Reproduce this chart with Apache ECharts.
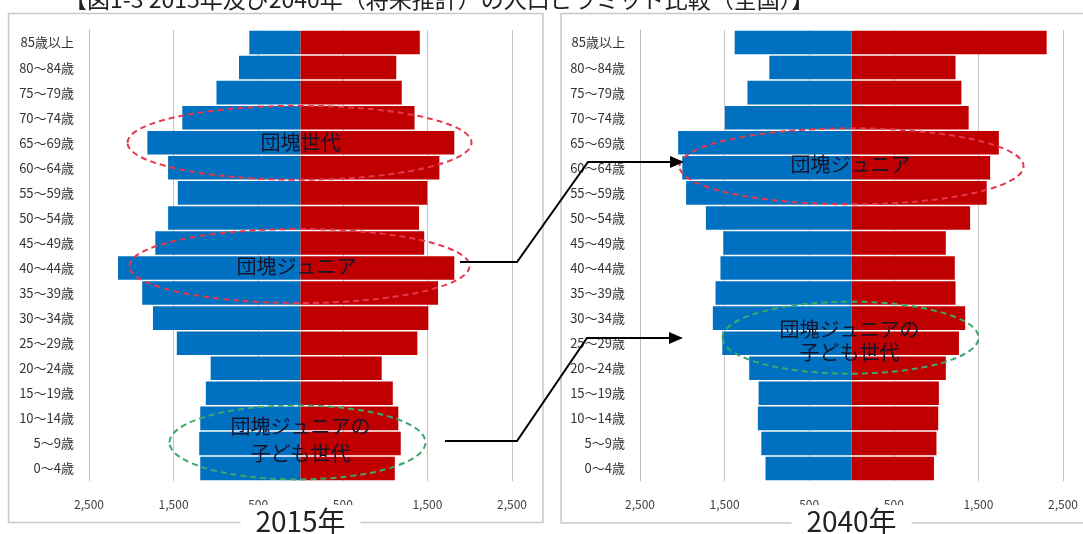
<!DOCTYPE html>
<html>
<head>
<meta charset="utf-8">
<script src="https://cdn.jsdelivr.net/npm/echarts@6/dist/echarts.min.js"></script>
<style>
html, body { margin: 0; padding: 0; background: #fff; }
#main { width: 1083px; height: 534px; }
</style>
</head>
<body>
<div id="main"></div>
<script>
// 年齢階級（上から）
var ageGroups = ['85歳以上', '80～84歳', '75～79歳', '70～74歳', '65～69歳', '60～64歳', '55～59歳', '50～54歳', '45～49歳',
	'40～44歳', '35～39歳', '30～34歳', '25～29歳', '20～24歳', '15～19歳', '10～14歳', '5～9歳', '0～4歳'];
// 2015年
var male2015 = [605, 727, 993, 1397, 1810, 1565, 1450, 1565, 1716, 2157, 1871, 1744, 1462, 1062, 1119, 1185, 1197, 1185];
var female2015 = [1410, 1132, 1197, 1348, 1818, 1642, 1499, 1401, 1462, 1818, 1626, 1511, 1381, 960, 1091, 1156, 1185, 1115];
// 2040年
var male2040 = [1381, 971, 1230, 1496, 2049, 2000, 1955, 1721, 1516, 1549, 1607, 1639, 1527, 1209, 1098, 1107, 1066, 1016];
var female2040 = [2307, 1230, 1299, 1385, 1742, 1639, 1598, 1402, 1115, 1221, 1230, 1344, 1270, 1115, 1033, 1025, 1004, 975];
// 目盛ラベル
var tickValues = [-2500, -1500, -500, 500, 1500, 2500];
var yearLabels = ['2015年', '2040年'];

var FONT = '"Noto Sans CJK JP", "Noto Sans", sans-serif';
var chart = echarts.init(document.getElementById('main'));

function fmtTick(v) {
	if (tickValues.indexOf(v) < 0) return '';
	return String(Math.abs(v)).replace(/\B(?=(\d{3})+(?!\d))/g, ',');
}

function makeXAxis(idx) {
	return {
		type: 'value', gridIndex: idx, min: -2500, max: 2500, interval: 500,
		axisLine: { lineStyle: { color: '#bdbdbd', width: 1 } },
		axisTick: { show: false },
		splitLine: { show: true, lineStyle: { color: ['#c4c4c4', 'rgba(0,0,0,0)'], width: 1 } },
		axisLabel: { formatter: fmtTick, fontSize: 12, color: '#404040', margin: 17, fontFamily: FONT,
			showMinLabel: true, showMaxLabel: true }
	};
}

function makeYAxis(idx) {
	return {
		type: 'category', gridIndex: idx, data: ageGroups, inverse: true,
		axisLine: { show: true, onZero: false, lineStyle: { color: '#bdbdbd', width: 1 } },
		axisTick: { show: false },
		axisLabel: { fontSize: 13, color: '#333', margin: 15, fontFamily: FONT }
	};
}

function makeBar(name, data, idx, color, sign) {
	return {
		name: name, type: 'bar', xAxisIndex: idx, yAxisIndex: idx,
		data: data.map(function (v) { return sign * v; }),
		barGap: '-100%', barCategoryGap: '6%',
		itemStyle: { color: color },
		z: 2, silent: true
	};
}

var option = {
	animation: false,
	backgroundColor: '#fff',
	grid: [
		{ left: 89, top: 30, width: 423, height: 451 },
		{ left: 640, top: 30, width: 423, height: 451 }
	],
	xAxis: [makeXAxis(0), makeXAxis(1)],
	yAxis: [makeYAxis(0), makeYAxis(1)],
	series: [
		makeBar('男性2015', male2015, 0, '#0070c0', -1),
		makeBar('女性2015', female2015, 0, '#c00000', 1),
		makeBar('男性2040', male2040, 1, '#0070c0', -1),
		makeBar('女性2040', female2040, 1, '#c00000', 1)
	]
};
chart.setOption(option);

//注釈（楕円・矢印・文字）
function at(g, cat, dx, dy) {
	var p = chart.convertToPixel({ gridIndex: g }, [0, cat]);
	return [p[0] + (dx || 0), p[1] + (dy || 0)];
}
function ellipse(c, rx, ry, color) {
	return { type: 'ellipse', z: 100, silent: true, shape: { cx: c[0], cy: c[1], rx: rx, ry: ry },
		style: { fill: 'none', stroke: color, lineWidth: 2, lineDash: [6, 4] } };
}
function label(c, text, lh) {
	return { type: 'text', z: 101, silent: true, x: c[0], y: c[1],
		style: { text: text, font: '20px ' + FONT, fill: '#14142a', lineHeight: lh || 24,
			align: 'center', verticalAlign: 'middle', textAlign: 'center', textVerticalAlign: 'middle' } };
}
function arrow(pts) {
	var tip = pts[pts.length - 1];
	return [
		{ type: 'polyline', z: 102, silent: true, shape: { points: pts.slice(0, -1).concat([[tip[0] - 10, tip[1]]]) },
			style: { fill: 'none', stroke: '#000', lineWidth: 2 } },
		{ type: 'polygon', z: 102, silent: true, shape: { points: [[tip[0], tip[1]], [tip[0] - 14, tip[1] - 6], [tip[0] - 14, tip[1] + 6]] },
			style: { fill: '#000' } }
	];
}
function yearTitle(g, text) {
	var c = at(g, '0～4歳');
	return [
		{ type: 'rect', z: 50, silent: true, shape: { x: c[0] - 60, y: 505, width: 120, height: 29 }, style: { fill: '#fff' } },
		{ type: 'text', z: 51, silent: true, x: c[0], y: 521,
			style: { text: text, font: '28px ' + FONT, fill: '#222',
				align: 'center', verticalAlign: 'middle', textAlign: 'center', textVerticalAlign: 'middle' } }
	];
}

var RED = '#e2394f', GREEN = '#3aa86a';
var graphics = [
	{ type: 'rect', z: 1, silent: true, shape: { x: 8.5, y: 13.5, width: 534.5, height: 509 },
		style: { fill: 'none', stroke: '#c8c8c8', lineWidth: 1.5 } },
	{ type: 'rect', z: 1, silent: true, shape: { x: 561, y: 13.5, width: 540, height: 509.5 },
		style: { fill: 'none', stroke: '#c8c8c8', lineWidth: 1.5 } },
	{ type: 'text', z: 1, silent: true, x: 64, y: -1,
		style: { text: '【図1-3 2015年及び2040年（将来推計）の人口ピラミッド比較（全国）】', font: '23px ' + FONT, fill: '#222',
			verticalAlign: 'middle', textVerticalAlign: 'middle' } },
	ellipse(at(0, '65～69歳', -1, 0), 172, 37, RED),
	label(at(0, '65～69歳', 0, 0), '団塊世代'),
	ellipse(at(0, '40～44歳', -1, -2), 170, 37, RED),
	label(at(0, '40～44歳', -4, -2), '団塊ジュニア'),
	ellipse(at(0, '5～9歳', -3, -1), 128, 37, GREEN),
	label(at(0, '5～9歳', 0, -4), '団塊ジュニアの\n子ども世代', 27),
	ellipse(at(1, '60～64歳', 0, -1.5), 172, 38, RED),
	label(at(1, '60～64歳', -1, -3), '団塊ジュニア'),
	ellipse(at(1, '25～29歳', -1, -5.5), 128, 36, GREEN),
	label(at(1, '25～29歳', -2, -2), '団塊ジュニアの\n子ども世代', 23)
];
graphics = graphics
	.concat(arrow([[460, 262], [517, 262], [588, 162], [684, 162]]))
	.concat(arrow([[445, 441], [517, 441], [587, 338], [683, 338]]))
	.concat(yearTitle(0, yearLabels[0]))
	.concat(yearTitle(1, yearLabels[1]));

chart.setOption({ graphic: graphics });
</script>
</body>
</html>
